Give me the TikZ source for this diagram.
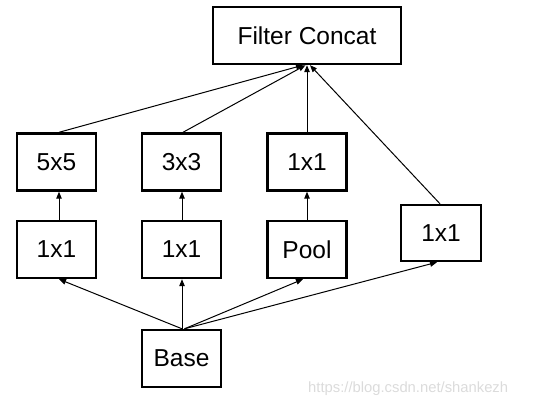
\documentclass[tikz,border=0pt]{standalone}
\usepackage{fontspec}
\setmainfont{Liberation Sans}
\usetikzlibrary{arrows.meta,calc}
\begin{document}
\begin{tikzpicture}[x=1pt,y=1pt,
  box/.style={draw=black,line width=2.4pt,minimum width=79pt,minimum height=57pt,inner sep=0pt,font=\fontsize{24.5}{27}\selectfont},
  conn/.style={line width=1pt,-{Triangle[length=7pt,width=5.5pt]}}]
\useasboundingbox (0,0) rectangle (539,404);
\node[box,minimum width=188pt] (concat) at (307,368.5) {Filter Concat};
\node[box] (a5) at (56.5,242) {5x5};
\node[box] (a3) at (181.5,242) {3x3};
\node[box] (p1) at (307,242) {1x1};
\node[box] (b1) at (56.5,154.5) {1x1};
\node[box] (b2) at (181.5,154.5) {1x1};
\node[box] (pool) at (307,154.5) {Pool};
\node[box,minimum width=80pt,minimum height=56pt] (r1) at (441,171) {1x1};
\node[box] (base) at (181.5,45.5) {Base};
\node[anchor=base west,text=black!14,font=\fontsize{14.8}{17}\selectfont,inner sep=0pt] (wm) at (308,11) {https://blog.csdn.net/shankezh};
% base to second row
\draw[conn] ($(base.north)+(0.5,0)$) -- ($(b1.south)+(2.5,0)$);
\draw[conn] ($(base.north)+(0.5,0)$) -- ($(b2.south)+(0.5,0)$);
\draw[conn] ($(base.north)+(3,0)$) -- ($(pool.south)+(-4,0)$);
\draw[conn] ($(base.north)+(3,0)$) -- ($(r1.south)+(-4,0)$);
% second row to first row
\draw[conn] ($(b1.north)+(2.5,0)$) -- ($(a5.south)+(2.5,0)$);
\draw[conn] ($(b2.north)+(0.5,0)$) -- ($(a3.south)+(0.5,0)$);
\draw[conn] (pool.north) -- (p1.south);
% to concat
\draw[conn] ($(a5.north)+(2.5,0)$) -- ($(concat.south)+(-4,0)$);
\draw[conn] ($(a3.north)+(1.5,0)$) -- ($(concat.south)+(-1.5,0)$);
\draw[conn] (p1.north) -- (concat.south);
\draw[conn] ($(r1.north)+(-1,0)$) -- ($(concat.south)+(3,0)$);
\end{tikzpicture}
\end{document}
